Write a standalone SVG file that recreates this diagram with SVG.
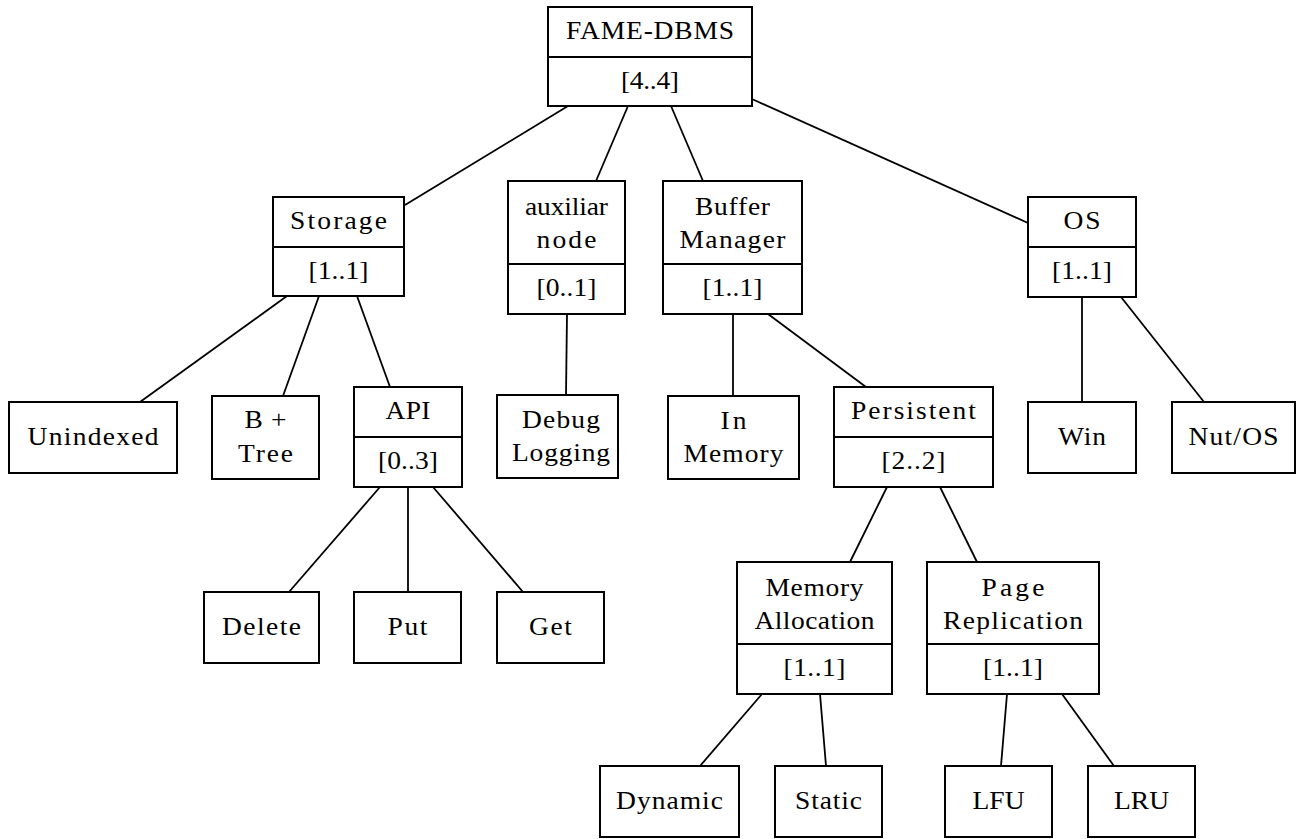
<svg xmlns="http://www.w3.org/2000/svg" width="1296" height="839" viewBox="0 0 1296 839">
<style>
rect{fill:#fff;stroke:#000;stroke-width:2}
.d{stroke:#000;stroke-width:2}
#edges line{stroke:#000;stroke-width:1.8}
text{font-family:"Liberation Serif","Times New Roman","DejaVu Serif",serif;font-size:25px;fill:#000;text-anchor:middle}
</style>
<rect x="0" y="0" width="1296" height="839" style="stroke:none"/>
<g id="edges">
<line x1="568" y1="106" x2="405" y2="205"/>
<line x1="628" y1="106" x2="596" y2="181"/>
<line x1="671" y1="106" x2="703" y2="181"/>
<line x1="752" y1="99" x2="1028" y2="223"/>
<line x1="287" y1="296" x2="140" y2="402"/>
<line x1="319" y1="296" x2="283" y2="396"/>
<line x1="357" y1="296" x2="390" y2="387"/>
<line x1="380" y1="487" x2="289" y2="592"/>
<line x1="408" y1="487" x2="408" y2="592"/>
<line x1="433" y1="487" x2="523" y2="592"/>
<line x1="567" y1="314" x2="566" y2="395"/>
<line x1="733" y1="314" x2="733" y2="396"/>
<line x1="768" y1="314" x2="866" y2="387"/>
<line x1="1082" y1="297" x2="1082" y2="402"/>
<line x1="1121" y1="297" x2="1204" y2="402"/>
<line x1="887" y1="487" x2="850" y2="562"/>
<line x1="940" y1="487" x2="977" y2="562"/>
<line x1="762" y1="694" x2="700" y2="766"/>
<line x1="820" y1="694" x2="826" y2="766"/>
<line x1="1007" y1="694" x2="1001" y2="766"/>
<line x1="1062" y1="694" x2="1114" y2="766"/>
</g>
<g id="fame"><rect x="548" y="7" width="204" height="99"/><line class="d" x1="548" y1="57" x2="752" y2="57"/>
<text transform="translate(650,39) scale(1.1,1)" textLength="152.7" lengthAdjust="spacing">FAME-DBMS</text><text transform="translate(650,89) scale(1.1,1)" textLength="52.7" lengthAdjust="spacing">[4..4]</text></g>
<g id="storage"><rect x="273" y="197" width="131" height="99"/><line class="d" x1="273" y1="247" x2="404" y2="247"/>
<text transform="translate(338.5,229) scale(1.1,1)" textLength="88.2" lengthAdjust="spacing">Storage</text><text transform="translate(338.5,279) scale(1.1,1)" textLength="54.5" lengthAdjust="spacing">[1..1]</text></g>
<g id="auxiliar"><rect x="508" y="181" width="117" height="133"/><line class="d" x1="508" y1="264" x2="625" y2="264"/>
<text transform="translate(566.5,215) scale(1.1,1)" textLength="75.5" lengthAdjust="spacing">auxiliar</text><text transform="translate(566.5,248) scale(1.1,1)" textLength="54.5" lengthAdjust="spacing">node</text><text transform="translate(566.5,296) scale(1.1,1)" textLength="54.5" lengthAdjust="spacing">[0..1]</text></g>
<g id="buffer"><rect x="663" y="181" width="139" height="133"/><line class="d" x1="663" y1="264" x2="802" y2="264"/>
<text transform="translate(732.5,215) scale(1.1,1)" textLength="68.2" lengthAdjust="spacing">Buffer</text><text transform="translate(732.5,248) scale(1.1,1)" textLength="96.4" lengthAdjust="spacing">Manager</text><text transform="translate(732.5,296) scale(1.1,1)" textLength="54.5" lengthAdjust="spacing">[1..1]</text></g>
<g id="os"><rect x="1028" y="197" width="108" height="100"/><line class="d" x1="1028" y1="247" x2="1136" y2="247"/>
<text transform="translate(1082,229) scale(1.1,1)" textLength="33.6" lengthAdjust="spacing">OS</text><text transform="translate(1082,279) scale(1.1,1)" textLength="54.5" lengthAdjust="spacing">[1..1]</text></g>
<g id="unindexed"><rect x="9" y="402" width="168" height="71"/><text transform="translate(93,445) scale(1.1,1)" textLength="119.1" lengthAdjust="spacing">Unindexed</text></g>
<g id="bplustree"><rect x="212" y="396" width="107" height="83"/><text transform="translate(265.5,428) scale(1.1,1)" textLength="38.2" lengthAdjust="spacing">B+</text><text transform="translate(265.5,462) scale(1.1,1)" textLength="50" lengthAdjust="spacing">Tree</text></g>
<g id="api"><rect x="354" y="387" width="108" height="100"/><line class="d" x1="354" y1="437" x2="462" y2="437"/>
<text transform="translate(408,419) scale(1.1,1)" textLength="40.9" lengthAdjust="spacing">API</text><text transform="translate(408,469) scale(1.1,1)" textLength="54.5" lengthAdjust="spacing">[0..3]</text></g>
<g id="delete"><rect x="204" y="592" width="115" height="71"/><text transform="translate(261.5,635) scale(1.1,1)" textLength="71.8" lengthAdjust="spacing">Delete</text></g>
<g id="put"><rect x="354" y="592" width="107" height="71"/><text transform="translate(407.5,635) scale(1.1,1)" textLength="36.4" lengthAdjust="spacing">Put</text></g>
<g id="get"><rect x="497" y="592" width="107" height="71"/><text transform="translate(550.5,635) scale(1.1,1)" textLength="39.1" lengthAdjust="spacing">Get</text></g>
<g id="debuglogging"><rect x="497" y="395" width="121" height="83"/><text transform="translate(561,428) scale(1.1,1)" textLength="70.9" lengthAdjust="spacing">Debug</text><text transform="translate(561,461) scale(1.1,1)" textLength="89.1" lengthAdjust="spacing">Logging</text></g>
<g id="inmemory"><rect x="668" y="396" width="131" height="83"/><text transform="translate(733.5,429) scale(1.1,1)" textLength="23.6" lengthAdjust="spacing">In</text><text transform="translate(733.5,462) scale(1.1,1)" textLength="90.9" lengthAdjust="spacing">Memory</text></g>
<g id="persistent"><rect x="834" y="387" width="159" height="100"/><line class="d" x1="834" y1="437" x2="993" y2="437"/>
<text transform="translate(913.5,419) scale(1.1,1)" textLength="113.6" lengthAdjust="spacing">Persistent</text><text transform="translate(913.5,469) scale(1.1,1)" textLength="58.2" lengthAdjust="spacing">[2..2]</text></g>
<g id="win"><rect x="1028" y="402" width="108" height="71"/><text transform="translate(1082,445) scale(1.1,1)" textLength="43.6" lengthAdjust="spacing">Win</text></g>
<g id="nutos"><rect x="1172" y="402" width="123" height="71"/><text transform="translate(1233.5,445) scale(1.1,1)" textLength="81.8" lengthAdjust="spacing">Nut/OS</text></g>
<g id="memoryallocation"><rect x="737" y="562" width="155" height="132"/><line class="d" x1="737" y1="644" x2="892" y2="644"/>
<text transform="translate(814.5,596) scale(1.1,1)" textLength="89.1" lengthAdjust="spacing">Memory</text><text transform="translate(814.5,629) scale(1.1,1)" textLength="109.1" lengthAdjust="spacing">Allocation</text><text transform="translate(814.5,676) scale(1.1,1)" textLength="56.4" lengthAdjust="spacing">[1..1]</text></g>
<g id="pagereplication"><rect x="927" y="562" width="172" height="132"/><line class="d" x1="927" y1="644" x2="1099" y2="644"/>
<text transform="translate(1013,596) scale(1.1,1)" textLength="57.3" lengthAdjust="spacing">Page</text><text transform="translate(1013,629) scale(1.1,1)" textLength="127.3" lengthAdjust="spacing">Replication</text><text transform="translate(1013,676) scale(1.1,1)" textLength="54.5" lengthAdjust="spacing">[1..1]</text></g>
<g id="dynamic"><rect x="600" y="766" width="139" height="71"/><text transform="translate(669.5,809) scale(1.1,1)" textLength="97.3" lengthAdjust="spacing">Dynamic</text></g>
<g id="static"><rect x="775" y="766" width="107" height="71"/><text transform="translate(828.5,809) scale(1.1,1)" textLength="60.9" lengthAdjust="spacing">Static</text></g>
<g id="lfu"><rect x="945" y="766" width="107" height="71"/><text transform="translate(998.5,809) scale(1.1,1)" textLength="47.3" lengthAdjust="spacing">LFU</text></g>
<g id="lru"><rect x="1088" y="766" width="107" height="71"/><text transform="translate(1141.5,809) scale(1.1,1)" textLength="50" lengthAdjust="spacing">LRU</text></g>
</svg>
